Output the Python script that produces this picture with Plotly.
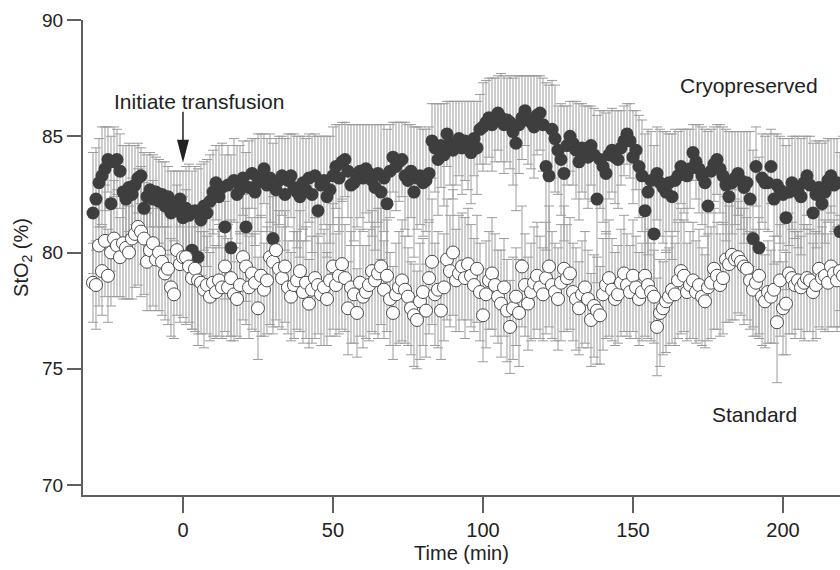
import plotly.graph_objects as go

# time axis (min), one reading per minute
minutes = list(range(-30, 221))

# Cryopreserved group: mean StO2 (%) and error bar half-width
cryo_mean = [
    81.7, 82.3, 83.0, 83.3, 83.6, 84.0, 82.1, 83.9, 84.0, 83.5,
    82.6, 82.3, 82.8, 82.5, 82.9, 83.2, 83.3, 81.9, 82.4, 82.7,
    82.3, 82.6, 82.2, 82.5, 82.0, 82.4, 81.7, 82.0, 81.8, 82.3,
    81.5, 81.9, 81.6, 80.1, 81.8, 79.8, 81.4, 82.0, 81.7, 82.2,
    82.6, 83.0, 82.4, 82.8, 81.1, 82.9, 80.2, 83.1, 82.5, 82.7,
    83.2, 81.1, 82.8, 83.4, 82.6, 83.0, 83.3, 83.6, 82.9, 83.2,
    80.6, 82.7, 83.1, 83.3, 82.5, 83.1, 83.3, 82.8, 82.6, 82.4,
    83.0, 82.7, 83.2, 82.5, 83.3, 81.8, 82.9, 83.1, 82.4, 82.7,
    83.3, 83.7, 83.2, 83.9, 84.0, 83.5, 82.9, 83.0, 83.3, 83.5,
    83.2, 83.6, 83.4, 83.1, 82.8, 83.4, 82.6, 83.2, 82.1, 83.5,
    84.1, 83.7, 83.9, 84.0, 83.3, 83.1, 83.5, 82.6, 83.2, 83.3,
    83.0, 83.1, 83.4, 84.8, 84.5, 84.0, 84.6, 84.2, 85.1, 84.7,
    84.4, 84.7, 84.9, 84.5, 84.8, 84.6, 84.3, 84.9, 84.5, 85.3,
    85.4, 85.6, 85.8, 85.5, 85.7, 86.0, 85.8, 85.5, 85.7, 85.6,
    85.2, 84.7, 85.5, 85.8, 86.1, 85.7, 85.6, 85.4, 85.9, 86.0,
    85.5, 83.7, 83.3, 85.3, 84.9, 84.4, 84.0, 83.4, 84.6, 85.0,
    84.7, 84.4, 83.9, 84.5, 84.3, 84.1, 84.6, 84.2, 82.3, 84.0,
    83.7, 83.4, 84.2, 84.4, 84.1, 84.0, 84.5, 84.8, 85.1, 84.8,
    84.1, 84.4, 83.7, 83.3, 81.8, 82.6, 83.1, 80.8, 83.4, 83.0,
    82.8, 82.6, 83.0, 82.4, 83.1, 83.3, 83.7, 83.5, 83.3, 83.6,
    84.3, 83.9, 83.6, 83.3, 83.0, 82.0, 83.5, 83.8, 84.0, 83.6,
    83.3, 82.9, 82.4, 83.0, 83.2, 83.4, 83.1, 82.8, 83.0, 82.3,
    80.6, 83.7, 80.2, 83.2, 83.0, 83.0, 83.7, 82.3, 82.9, 82.7,
    82.5, 81.5, 82.6, 83.0, 82.8, 82.6, 82.4, 83.0, 83.3, 82.9,
    81.7, 82.5, 82.8, 82.1, 82.6, 83.1, 83.3, 82.9, 83.0, 80.9,
    83.0,
]
cryo_err = [
    2.6, 2.2, 1.9, 2.1, 1.8, 1.4, 2.9, 1.5, 1.3, 1.6,
    2.0, 2.3, 1.9, 2.1, 1.7, 1.5, 1.2, 2.4, 1.8, 1.6,
    1.9, 1.5, 1.8, 1.4, 1.9, 1.3, 1.8, 1.5, 1.7, 1.2,
    2.0, 1.8, 2.2, 3.4, 1.9, 3.8, 2.4, 1.9, 2.3, 2.0,
    1.8, 1.6, 2.2, 1.9, 3.1, 1.7, 4.0, 1.8, 2.1, 1.9,
    1.6, 3.2, 2.0, 1.5, 2.3, 2.1, 1.8, 1.5, 2.0, 1.9,
    4.1, 2.2, 1.9, 1.7, 2.4, 2.0, 1.8, 2.3, 2.4, 2.6,
    2.0, 2.2, 1.9, 2.5, 1.8, 3.2, 2.1, 1.9, 2.6, 2.3,
    2.1, 1.8, 2.3, 1.7, 1.6, 2.0, 2.6, 2.5, 2.2, 2.0,
    2.3, 1.9, 2.1, 2.4, 2.7, 2.1, 2.9, 2.3, 3.2, 2.0,
    1.5, 1.9, 1.7, 1.6, 2.3, 2.4, 2.0, 2.8, 2.2, 2.1,
    2.3, 2.2, 2.0, 1.6, 1.9, 2.4, 1.8, 2.2, 1.4, 1.8,
    2.1, 1.8, 1.6, 2.0, 1.7, 1.9, 2.2, 1.6, 2.0, 1.5,
    1.9, 1.8, 1.7, 2.0, 1.8, 1.6, 1.9, 2.1, 1.8, 2.0,
    2.3, 2.9, 2.1, 1.8, 1.5, 1.9, 2.0, 2.2, 1.7, 1.6,
    2.0, 3.6, 3.9, 2.1, 2.3, 1.9, 2.4, 2.9, 1.7, 1.5,
    1.8, 2.1, 2.5, 1.9, 2.0, 2.2, 1.7, 2.0, 3.6, 2.1,
    2.4, 2.6, 1.9, 1.8, 2.0, 2.1, 1.6, 1.5, 1.3, 1.6,
    2.0, 1.7, 2.2, 2.4, 3.3, 2.7, 2.1, 3.8, 2.0, 2.3,
    2.4, 2.6, 2.1, 2.7, 2.2, 1.9, 1.6, 1.8, 2.0, 1.7,
    1.2, 1.6, 1.9, 2.1, 2.3, 3.2, 1.8, 1.6, 1.5, 1.9,
    2.1, 2.4, 2.8, 2.2, 2.0, 1.8, 2.1, 2.4, 2.2, 2.9,
    3.8, 1.7, 3.9, 1.9, 2.0, 2.1, 1.6, 2.8, 2.2, 2.3,
    2.4, 3.1, 2.3, 2.0, 2.2, 2.4, 2.5, 2.0, 1.7, 2.1,
    3.0, 2.3, 2.0, 2.6, 2.2, 1.8, 1.6, 2.0, 1.9, 3.4,
    2.0,
]

# Standard group
std_mean = [
    78.7, 78.6, 80.3, 79.2, 80.5, 79.0, 80.0, 80.6, 80.3, 79.8,
    80.4, 80.2, 80.0, 80.6, 80.8, 81.1, 80.9, 80.6, 79.6, 80.1,
    80.4, 79.7, 80.0, 79.6, 79.1, 79.3, 78.5, 78.2, 80.1, 79.5,
    79.8, 79.8, 79.4, 78.9, 79.3, 78.8, 78.7, 78.4, 78.6, 78.1,
    78.7, 78.3, 78.8, 78.5, 79.4, 78.5, 78.9, 78.2, 78.0, 78.6,
    79.8, 79.4, 78.5, 79.1, 78.7, 77.6, 79.0, 78.4, 78.8, 79.8,
    79.6, 80.1, 79.3, 78.9, 79.4, 78.5, 78.1, 78.6, 78.8, 79.2,
    78.3, 78.7, 77.8, 78.4, 78.9, 78.6, 78.2, 78.5, 78.0, 78.8,
    79.4, 78.6, 79.0, 79.5, 78.9, 77.6, 78.5, 78.2, 77.4, 78.7,
    78.1, 78.3, 78.6, 79.2, 78.8, 79.1, 79.4, 78.4, 79.0, 78.0,
    77.4, 78.2, 78.5, 78.8, 78.4, 78.1, 77.6, 77.3, 77.1, 77.9,
    78.3, 77.5, 78.9, 79.6, 78.2, 78.4, 77.5, 78.5, 79.7, 79.2,
    80.0, 78.8, 79.1, 79.4, 78.9, 79.5, 79.0, 78.6, 79.3, 78.3,
    77.3, 78.2, 78.8, 79.1, 78.6, 78.1, 77.8, 78.5, 77.5, 76.8,
    77.6, 78.1, 77.4, 79.4, 78.6, 77.8, 78.3, 78.7, 79.0, 78.5,
    78.2, 78.9, 79.4, 78.6, 78.3, 78.0, 78.7, 79.3, 78.9, 79.1,
    78.3, 78.0, 77.6, 78.2, 78.5, 78.0, 77.1, 77.7, 77.5, 77.3,
    78.2, 78.6, 78.9, 78.4, 78.0, 78.2, 78.7, 79.1, 78.6, 78.3,
    79.0, 78.5, 78.0, 78.3, 79.0, 78.6, 78.3, 78.1, 76.8, 77.4,
    77.6, 77.9, 78.1, 78.4, 78.2, 78.8, 79.2, 79.0, 78.3, 78.6,
    78.8, 78.3, 78.6, 78.1, 77.9, 78.5, 78.7, 79.3, 79.0, 78.6,
    78.9, 79.7, 79.5, 79.9, 79.7, 79.8, 79.6, 79.4, 79.3, 78.8,
    78.4, 78.7, 79.0, 78.1, 77.9, 78.3, 78.1, 78.4, 77.0, 78.8,
    77.6, 77.8, 79.1, 78.9, 78.6, 78.8, 78.5, 78.7, 78.9, 78.8,
    78.3, 78.6, 79.3, 78.9, 79.0, 78.7, 79.4, 79.1, 78.8, 79.2,
    79.0,
]
std_err = [
    1.7, 1.9, 2.6, 1.9, 2.4, 2.0, 2.3, 2.5, 2.2, 1.7,
    2.4, 2.2, 2.0, 2.6, 2.3, 2.5, 2.8, 2.4, 2.1, 2.6,
    2.7, 2.2, 2.5, 2.3, 2.0, 2.4, 2.1, 1.9, 2.8, 2.5,
    2.6, 2.9, 2.4, 2.2, 2.7, 2.3, 2.2, 2.5, 2.1, 1.9,
    2.3, 2.0, 2.4, 2.2, 2.8, 2.1, 2.5, 2.0, 1.6, 2.3,
    2.7, 2.5, 2.2, 2.4, 2.1, 2.2, 2.6, 2.0, 2.3, 2.9,
    2.8, 3.0, 2.5, 2.2, 2.4, 2.0, 1.9, 2.3, 2.1, 2.6,
    2.2, 2.4, 1.9, 2.3, 2.6, 2.1, 2.2, 2.5, 2.0, 2.4,
    2.7, 2.2, 2.5, 2.8, 2.3, 2.0, 2.4, 2.1, 1.9, 2.3,
    2.2, 2.0, 2.4, 2.6, 2.3, 2.8, 2.5, 2.1, 2.4, 2.0,
    2.0, 2.2, 2.4, 2.6, 2.3, 2.1, 2.0, 2.2, 2.1, 2.5,
    2.3, 2.0, 2.4, 2.7, 2.2, 2.5, 2.1, 2.3, 2.6, 2.4,
    2.7, 2.2, 2.5, 2.3, 2.6, 2.4, 2.2, 2.0, 2.3, 2.1,
    2.0, 2.3, 2.1, 2.4, 2.2, 2.0, 2.3, 2.1, 2.2, 2.0,
    2.2, 2.1, 2.3, 2.6, 2.2, 2.0, 2.1, 2.4, 2.3, 2.2,
    2.0, 2.4, 2.6, 2.3, 2.1, 2.2, 2.5, 2.7, 2.3, 2.4,
    2.1, 2.2, 2.0, 2.3, 2.4, 2.1, 2.0, 2.2, 2.3, 2.1,
    2.4, 2.3, 2.5, 2.2, 2.0, 2.1, 2.3, 2.5, 2.2, 2.0,
    2.4, 2.2, 2.0, 2.1, 2.6, 2.3, 2.1, 2.0, 2.1, 2.3,
    2.0, 2.2, 2.1, 2.3, 2.2, 2.5, 2.7, 2.4, 2.1, 2.3,
    2.5, 2.2, 2.4, 2.1, 2.0, 2.3, 2.4, 2.6, 2.3, 2.2,
    2.4, 2.7, 2.5, 2.8, 2.6, 2.4, 2.3, 2.5, 2.2, 2.1,
    2.0, 2.3, 2.5, 2.1, 2.0, 2.2, 2.0, 2.3, 2.6, 2.4,
    2.0, 2.2, 2.6, 2.4, 2.3, 2.1, 2.2, 2.5, 2.3, 2.2,
    2.1, 2.3, 2.5, 2.2, 2.4, 2.1, 2.6, 2.3, 2.2, 2.4,
    2.2,
]

x_ticks = [0, 50, 100, 150, 200]
y_ticks = [70, 75, 80, 85, 90]

font = "Liberation Sans, Arial, sans-serif"
bar_gray = "#9c9c9c"
axis_gray = "#5f5f5f"

fig = go.Figure()

# error bars first so every marker sits on top of them
for mean, err in [(cryo_mean, cryo_err), (std_mean, std_err)]:
    fig.add_trace(go.Scatter(
        x=minutes, y=mean, mode="markers",
        marker=dict(size=1, color="rgba(0,0,0,0)"),
        error_y=dict(type="data", array=err, color=bar_gray,
                     thickness=1, width=5),
        showlegend=False, hoverinfo="skip"))

fig.add_trace(go.Scatter(
    x=minutes, y=cryo_mean, mode="markers", name="Cryopreserved",
    marker=dict(size=13, color="#3e3e3e", line=dict(width=0)),
    showlegend=False))
fig.add_trace(go.Scatter(
    x=minutes, y=std_mean, mode="markers", name="Standard",
    marker=dict(size=13, color="white", line=dict(width=1, color="#4a4a4a")),
    showlegend=False))

# arrow marking start of transfusion: shaft + long narrow head
fig.add_shape(type="line", x0=0, x1=0, y0=86.05, y1=84.8,
              line=dict(color="#222", width=1.5))
fig.add_shape(type="path", path="M -2 84.85 L 2 84.85 L 0 83.86 Z",
              fillcolor="#222", line=dict(width=0))

fig.add_annotation(x=5.3, y=86.48, text="Initiate transfusion",
                   showarrow=False, font=dict(size=21, color="#222"))
fig.add_annotation(x=188.7, y=87.2, text="Cryopreserved",
                   showarrow=False, font=dict(size=21, color="#222"))
fig.add_annotation(x=190.5, y=73.03, text="Standard",
                   showarrow=False, font=dict(size=21, color="#222"))

fig.update_xaxes(range=[-33.33, 219.0], tickvals=x_ticks,
                 showline=True, linecolor=axis_gray, linewidth=2,
                 ticks="outside", ticklen=16, tickwidth=2, tickcolor=axis_gray,
                 showgrid=False, zeroline=False,
                 tickfont=dict(size=20, color="#222"),
                 title=dict(text="Time (min)", font=dict(size=20, color="#222"),
                            standoff=6))
fig.update_yaxes(range=[69.57, 90.0], tickvals=y_ticks,
                 showline=True, linecolor=axis_gray, linewidth=2,
                 ticks="outside", ticklen=14, tickwidth=2, tickcolor=axis_gray,
                 showgrid=False, zeroline=False,
                 tickfont=dict(size=19, color="#222"),
                 title=dict(text="StO<sub>2</sub> (%)",
                            font=dict(size=20, color="#222"), standoff=8))

fig.update_layout(width=840, height=570,
                  margin=dict(l=83, r=0, t=20, b=75),
                  plot_bgcolor="white", paper_bgcolor="white",
                  font=dict(family=font, color="#222"))

# drop the browser's default 8px body margin so the figure fills the window
fig.write_html("out.html", config={"displayModeBar": False},
               post_script="document.body.style.margin='0';")
